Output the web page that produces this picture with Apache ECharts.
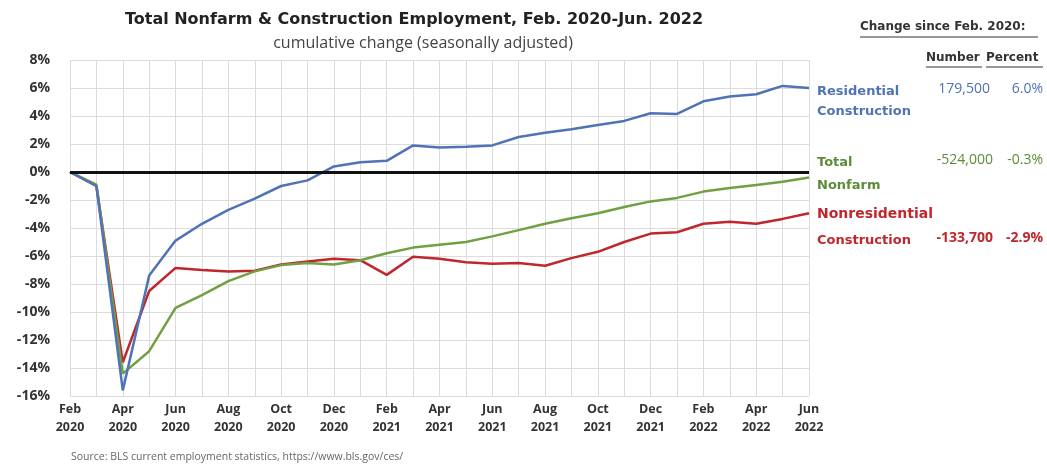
<!DOCTYPE html>
<html><head><meta charset="utf-8">
<script src="https://cdn.jsdelivr.net/npm/echarts@6/dist/echarts.min.js"></script>
<style>html,body{margin:0;padding:0;background:#fff}#c{width:1047px;height:470px}</style>
</head><body><div id="c"></div>
<script>
const months = ['Feb\n2020','Mar\n2020','Apr\n2020','May\n2020','Jun\n2020','Jul\n2020','Aug\n2020','Sep\n2020','Oct\n2020','Nov\n2020','Dec\n2020',
 'Jan\n2021','Feb\n2021','Mar\n2021','Apr\n2021','May\n2021','Jun\n2021','Jul\n2021','Aug\n2021','Sep\n2021','Oct\n2021','Nov\n2021','Dec\n2021',
 'Jan\n2022','Feb\n2022','Mar\n2022','Apr\n2022','May\n2022','Jun\n2022'];
const residential = [0,-1.0,-15.6,-7.4,-4.9,-3.7,-2.7,-1.9,-1.0,-0.6,0.4,0.7,0.8,1.9,1.75,1.8,1.9,2.5,2.8,3.05,3.35,3.65,4.2,4.15,5.05,5.4,5.55,6.15,6.0];
const nonresidential = [0,-1.0,-13.6,-8.5,-6.85,-7.0,-7.1,-7.05,-6.6,-6.4,-6.2,-6.3,-7.35,-6.05,-6.2,-6.45,-6.55,-6.5,-6.7,-6.15,-5.7,-5.0,-4.4,-4.3,-3.7,-3.55,-3.7,-3.35,-2.95];
const totalNonfarm = [0,-0.9,-14.4,-12.8,-9.7,-8.8,-7.8,-7.1,-6.65,-6.5,-6.6,-6.3,-5.8,-5.4,-5.2,-5.0,-4.6,-4.15,-3.7,-3.3,-2.95,-2.5,-2.1,-1.85,-1.4,-1.15,-0.93,-0.7,-0.4];
const yTicks = {min:-16, max:8, interval:2};
const summary = [
  {name:['Residential','Construction'], number:'179,500', pct:'6.0%'},
  {name:['Total','Nonfarm'], number:'-524,000', pct:'-0.3%'},
  {name:['Nonresidential','Construction'], number:'-133,700', pct:'-2.9%'}
];
const BLUE='#4f73b6', RED='#c0272d', GREEN='#70a043', GTXT='#5d8c38';
const chart = echarts.init(document.getElementById('c'));
const FONT = 'Open Sans';
const txt = (x,y,t,o) => Object.assign({type:'text', left:x, top:y, style:Object.assign({text:t, font:'bold 13px "DejaVu Sans"', fill:'#333'}, o||{})});
const rtxt = (r,y,t,o) => ({type:'text', right:r, top:y, style:Object.assign({text:t, font:'14px "Open Sans"', fill:'#333', textAlign:'right'}, o||{})});
chart.setOption({
  animation:false,
  textStyle:{fontFamily:FONT},
  title:[
    {text:'Total Nonfarm & Construction Employment, Feb. 2020-Jun. 2022', left:409, top:7, textAlign:'center',
     textStyle:{fontFamily:'DejaVu Sans', fontWeight:'bold', fontSize:16, color:'#222'}},
    {text:'cumulative change (seasonally adjusted)', left:418, top:30, textAlign:'center',
     textStyle:{fontFamily:'Open Sans', fontWeight:'normal', fontSize:16, color:'#444'}},
    {text:'Source: BLS current employment statistics, https://www.bls.gov/ces/', left:66, top:447,
     textStyle:{fontFamily:'Open Sans', fontWeight:'normal', fontSize:10.5, color:'#666'}}
  ],
  grid:{left:70, right:238, top:60, bottom:74},
  xAxis:{type:'category', data:months, boundaryGap:false,
    axisLine:{show:false}, axisTick:{show:false},
    axisLabel:{interval:1, color:'#333', fontWeight:'bold', fontSize:12.5, lineHeight:18, margin:4, fontFamily:FONT},
    splitLine:{show:true, interval:0, lineStyle:{color:'#dcdcdc', width:1}}},
  yAxis:{type:'value', min:yTicks.min, max:yTicks.max, interval:yTicks.interval,
    axisLine:{show:false}, axisTick:{show:false},
    axisLabel:{formatter:'{value}%', color:'#333', fontWeight:'bold', fontSize:14, margin:20, fontFamily:FONT},
    splitLine:{lineStyle:{color:'#dcdcdc', width:1}}},
  series:[
    {name:'Nonresidential Construction', type:'line', data:nonresidential, symbol:'none', lineStyle:{color:RED, width:2.5}, z:2},
    {name:'Total Nonfarm', type:'line', data:totalNonfarm, symbol:'none', lineStyle:{color:GREEN, width:2.5}, z:3},
    {name:'Residential Construction', type:'line', data:residential, symbol:'none', lineStyle:{color:BLUE, width:2.5}, z:4,
     markLine:{silent:true, symbol:'none', label:{show:false}, lineStyle:{color:'#111', width:3, type:'solid'}, data:[{yAxis:0}], z:10}}
  ],
  graphic:[
    txt(860,21,'Change since Feb. 2020:', {font:'bold 12px "DejaVu Sans"', fill:'#333'}),
    {type:'line', shape:{x1:860,y1:37,x2:1038,y2:37}, style:{stroke:'#333', lineWidth:1}},
    txt(926,52,'Number', {font:'bold 12px "DejaVu Sans"'}),
    {type:'line', shape:{x1:926,y1:67,x2:982,y2:67}, style:{stroke:'#333', lineWidth:1}},
    txt(986,52,'Percent', {font:'bold 12px "DejaVu Sans"'}),
    {type:'line', shape:{x1:986,y1:67,x2:1043,y2:67}, style:{stroke:'#333', lineWidth:1}},
    txt(817,85,summary[0].name[0], {fill:BLUE}),
    txt(817,105,summary[0].name[1], {fill:BLUE}),
    rtxt(57,82,summary[0].number, {fill:BLUE}),
    rtxt(4,82,summary[0].pct, {fill:BLUE}),
    txt(817,156,summary[1].name[0], {fill:GTXT}),
    txt(817,179,summary[1].name[1], {fill:GTXT}),
    rtxt(54,153,summary[1].number, {fill:GTXT}),
    rtxt(4,153,summary[1].pct, {fill:GTXT}),
    txt(817,207,summary[2].name[0], {fill:RED, font:'bold 14px "DejaVu Sans"'}),
    txt(817,234,summary[2].name[1], {fill:RED}),
    rtxt(54,231,summary[2].number, {fill:RED, font:'bold 14px "Open Sans"'}),
    rtxt(4,231,summary[2].pct, {fill:RED, font:'bold 14px "Open Sans"'})
  ]
});
</script></body></html>
